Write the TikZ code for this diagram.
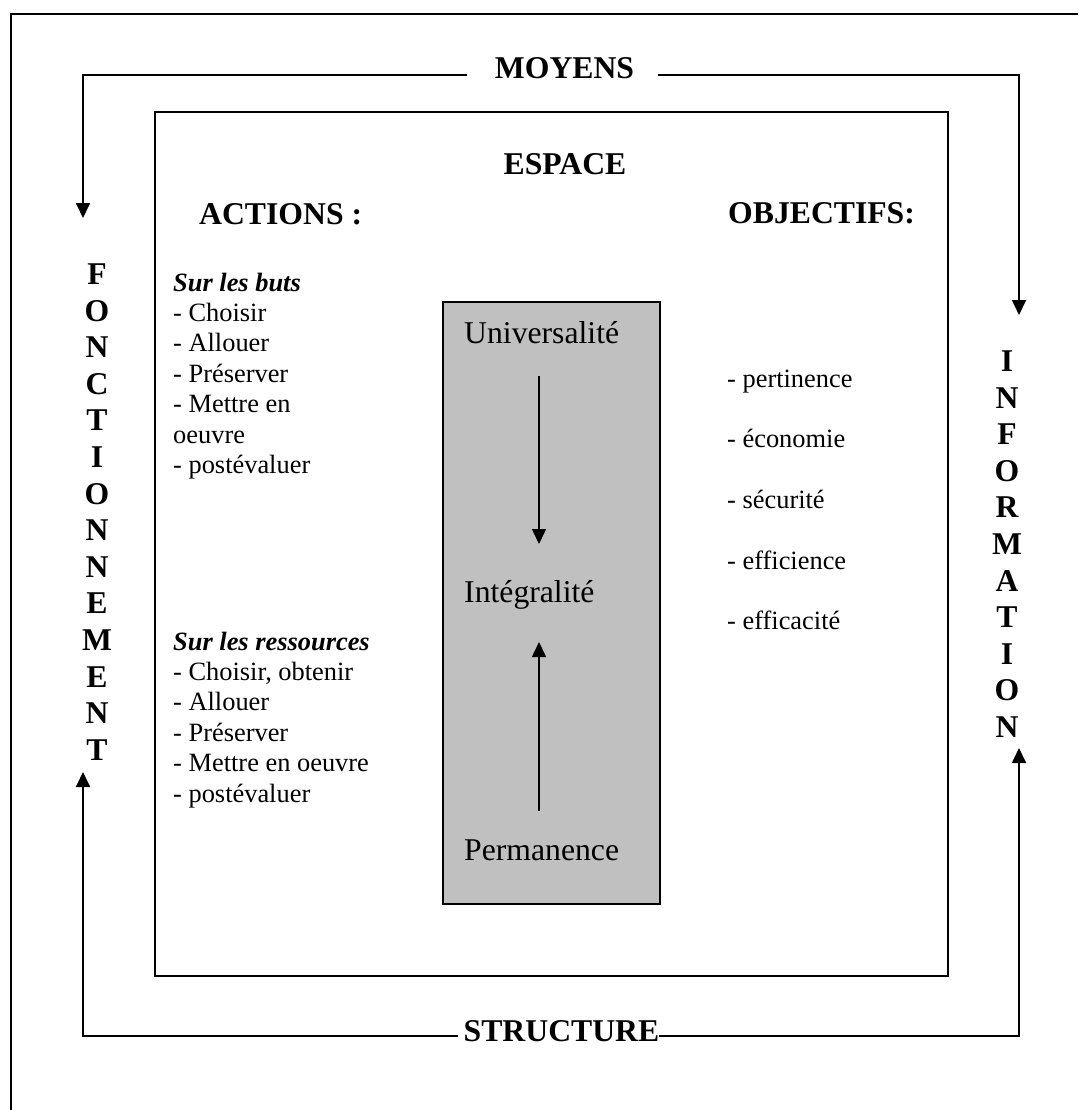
\documentclass[tikz,border=0pt]{standalone}
\usepackage{fontspec}
\setmainfont{Liberation Serif}
\usetikzlibrary{arrows.meta}
\definecolor{boxgray}{RGB}{192,192,192}
\begin{document}
\begin{tikzpicture}[x=1pt,y=-1pt,
  conn/.style={line width=1.8pt},
  arr/.style={conn,-{Triangle[width=14pt,length=15pt]}},
  garr/.style={line width=1.5pt,-{Triangle[width=14pt,length=15pt]}},
  head/.style={inner sep=0pt,font=\fontsize{31.7}{36.5}\selectfont\bfseries},
  body/.style={inner sep=0pt,anchor=base west,font=\fontsize{26.4}{30.4}\selectfont},
  big/.style={inner sep=0pt,anchor=base west,font=\fontsize{31.7}{36.5}\selectfont},
  letter/.style={inner sep=0pt,anchor=base,font=\fontsize{31.7}{36.5}\selectfont\bfseries},
  frame/.style={line width=2.4pt},
  espbox/.style={draw,line width=1.8pt},
  graybox/.style={draw,line width=1.5pt,fill=boxgray}
]
\useasboundingbox (0,0) rectangle (1078,1110);
% outer frame (only top and left edges visible)
\draw[frame] (11,1110) -- (11,14) -- (1078,14);
% inner ESPACE box
\draw[espbox] (155,112) rectangle (948,976);
% gray box
\draw[graybox] (443,302) rectangle (660,904);

% headings
\node[head,anchor=base] (moy) at (564.5,79) {MOYENS};
\node[head,anchor=base] (esp) at (565,175) {ESPACE};
\node[head,anchor=base west] (act) at (199,224) {ACTIONS :};
\node[head,anchor=base west] (obj) at (728,223) {OBJECTIFS:};
\node[head,anchor=base west] (str) at (463.5,1041) {STRUCTURE};

% vertical words
\foreach \c [count=\i from 0] in {F,O,N,C,T,I,O,N,N,E,M,E,N,T}
  \node[letter] (fl\i) at (97,284.5+36.6*\i) {\c};
\foreach \c [count=\i from 0] in {I,N,F,O,R,M,A,T,I,O,N}
  \node[letter] (il\i) at (1007,371.5+36.6*\i) {\c};

% left lists
\foreach \t [count=\i from 0] in {\textbf{\textit{Sur les buts}},- Choisir,- Allouer,- Préserver,- Mettre en,oeuvre,- postévaluer}
  \node[body] (lb\i) at (173,291+30.4*\i) {\t};
\foreach \t [count=\i from 0] in {\textbf{\textit{Sur les ressources}},{- Choisir, obtenir},- Allouer,- Préserver,- Mettre en oeuvre,- postévaluer}
  \node[body] (lr\i) at (173,650+30.4*\i) {\t};

% right list
\foreach \t [count=\i from 0] in {- pertinence,- économie,- sécurité,- efficience,- efficacité}
  \node[body] (ro\i) at (727,387+60.7*\i) {\t};

% gray box texts
\node[big] (univ) at (464,343) {Universalité};
\node[big] (integ) at (464,602) {Intégralité};
\node[big] (perm) at (464,860) {Permanence};

% connector coordinates
\coordinate (mL) at (467,75);
\coordinate (mLc) at (83,75);
\coordinate (mLt) at (83,218);
\coordinate (mR) at (658,75);
\coordinate (mRc) at (1019,75);
\coordinate (mRt) at (1019,315);
\coordinate (sL) at (458,1036);
\coordinate (sLc) at (83,1036);
\coordinate (sLt) at (83,772);
\coordinate (sR) at (659,1036);
\coordinate (sRc) at (1019,1036);
\coordinate (sRt) at (1019,748);
\coordinate (gD1) at (539,376);
\coordinate (gD2) at (539,544);
\coordinate (gU1) at (539,811);
\coordinate (gU2) at (539,642);

\draw[arr] (mL) -- (mLc) -- (mLt);
\draw[arr] (mR) -- (mRc) -- (mRt);
\draw[arr] (sL) -- (sLc) -- (sLt);
\draw[arr] (sR) -- (sRc) -- (sRt);
\draw[garr] (gD1) -- (gD2);
\draw[garr] (gU1) -- (gU2);
\end{tikzpicture}
\end{document}
